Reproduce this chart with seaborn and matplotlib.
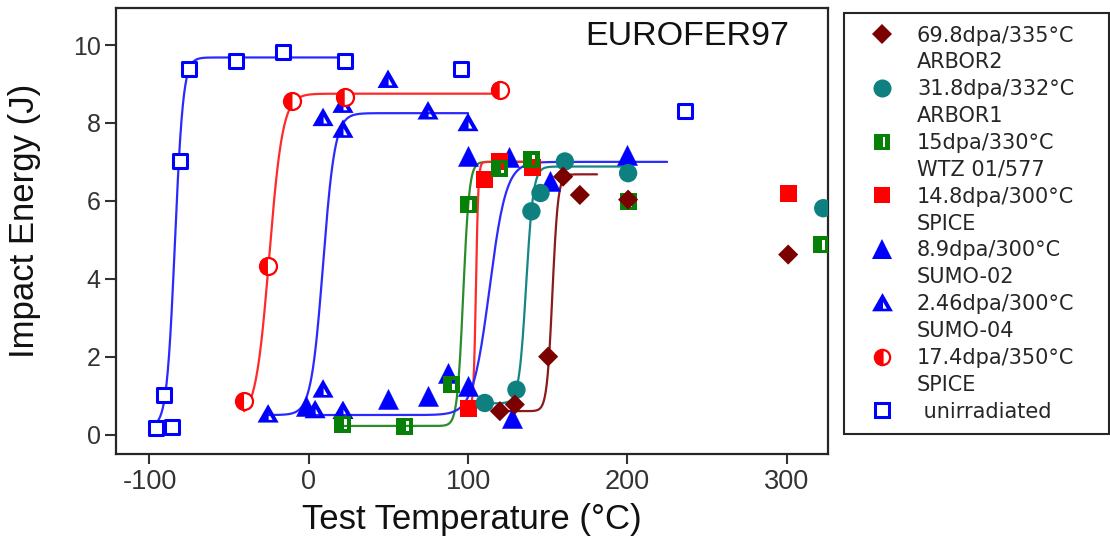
import numpy as np
import pandas as pd
import matplotlib
matplotlib.use("Agg")
import matplotlib.pyplot as plt
from matplotlib.markers import MarkerStyle
from matplotlib.path import Path
from matplotlib.lines import Line2D
import seaborn as sns

sns.set_style("ticks")
plt.rcParams["font.family"] = ["Liberation Sans", "DejaVu Sans"]

# ---------------- data ----------------
series_names = ["69.8dpa/335°C", "31.8dpa/332°C", "15dpa/330°C", "14.8dpa/300°C",
                "8.9dpa/300°C", "2.46dpa/300°C", "17.4dpa/350°C", " unirradiated"]
series_sub = ["ARBOR2", "ARBOR1", "WTZ 01/577", "SPICE", "SUMO-02", "SUMO-04", "SPICE", None]

arbor2_t = [120, 129.4, 150.3, 159.7, 170.2, 200.5, 301]
arbor2_e = [0.60, 0.77, 2.00, 6.62, 6.15, 6.03, 4.62]

arbor1_t = [110.5, 130.4, 139.8, 145.5, 160.8, 200.5, 323]
arbor1_e = [0.81, 1.15, 5.73, 6.20, 7.01, 6.71, 5.81]

wtz_t = [21.5, 60.3, 89.6, 100, 120, 139.8, 200.5, 322]
wtz_e = [0.26, 0.21, 1.28, 5.90, 6.84, 7.05, 5.98, 4.87]

spice148_t = [100, 110.5, 120, 140.7, 301]
spice148_e = [0.68, 6.54, 7.01, 6.85, 6.20]

sumo02_t = [-1.5, 49.8, 74.9, 87.5, 100, 100, 126, 127.3, 151.3, 199.5]
sumo02_e = [0.72, 0.90, 0.98, 1.58, 1.24, 7.14, 7.12, 0.43, 6.50, 7.18]

sumo04_t = [-25.5, 4, 9, 21.5, 9, 21.5, 21.5, 49.8, 74.9, 100]
sumo04_e = [0.51, 0.62, 1.15, 0.60, 8.12, 7.82, 8.46, 9.10, 8.29, 7.99]

spice174_t = [-40.6, -25.6, -10.2, 22.6, 119.9]
spice174_e = [0.85, 4.33, 8.55, 8.66, 8.85]

unirr_t = [-95.6, -85.6, -90.9, -80.8, -75.4, -45.4, -16.1, 22.6, 95.9, 236.5]
unirr_e = [0.18, 0.20, 1.01, 7.03, 9.38, 9.60, 9.83, 9.60, 9.38, 8.31]

# tanh fit parameters of the drawn transition curves (same order as series_names)
fit_use = [6.68, 6.88, 7.00, 7.00, 7.00, 8.25, 8.75, 9.68]
fit_lse = [0.60, 0.80, 0.22, 0.68, 0.50, 0.50, 0.40, 0.20]
fit_t0 = [153.0, 136.5, 97.0, 105.0, 113.5, 9.0, -24.8, -84.0]
fit_c = [3.5, 4.5, 3.8, 1.5, 10.5, 7.5, 8.5, 5.2]
fit_tmin = [120, 110.5, 21.5, 100, -1.5, -25.5, -40.6, -95.6]
fit_tmax = [181, 200.5, 145, 142, 225, 100, 120, 22.6]

x_ticks = [-100, 0, 100, 200, 300]
y_ticks = [0, 2, 4, 6, 8, 10]
title_text = "EUROFER97"
x_label = "Test Temperature (°C)"
y_label = "Impact Energy (J)"

# ---------------- styles ----------------
marker_cols = ["#7B0000", "#0F8080", "#068006", "#FF0000", "#0000FF", "#0000FF", "#FF0000", "#0000FF"]
line_cols = ["#8B1A1A", "#168585", "#2A8C2A", "#FF2A2A", "#2A2AFF", "#2A2AFF", "#FF2A2A", "#2A2AFF"]

wtz_path = Path(
    [(-1, -1), (1, -1), (1, 1), (-1, 1), (-1, -1),
     (0.1, -0.6), (0.1, 0.6), (0.45, 0.6), (0.45, -0.6), (0.1, -0.6)],
    [Path.MOVETO, Path.LINETO, Path.LINETO, Path.LINETO, Path.CLOSEPOLY,
     Path.MOVETO, Path.LINETO, Path.LINETO, Path.LINETO, Path.CLOSEPOLY])
tri_path = Path(
    [(0, 1), (-1, -0.75), (1, -0.75), (0, 1),
     (0.05, -0.5), (0.05, 0.15), (0.42, -0.5), (0.05, -0.5)],
    [Path.MOVETO, Path.LINETO, Path.LINETO, Path.CLOSEPOLY,
     Path.MOVETO, Path.LINETO, Path.LINETO, Path.CLOSEPOLY])

m_wtz = MarkerStyle(wtz_path)
m_tri = MarkerStyle(tri_path)
m_half = MarkerStyle("o", fillstyle="left")

fig = plt.figure(figsize=(11.1, 5.45), dpi=100)
ax = fig.add_axes([116 / 1110, 1 - 454 / 545, (828 - 116) / 1110, (454 - 8) / 545])

# ---------------- fitted curves ----------------
for i in range(len(series_names)):
    tt = np.linspace(fit_tmin[i], fit_tmax[i], 300)
    ee = fit_lse[i] + (fit_use[i] - fit_lse[i]) / 2 * (1 + np.tanh((tt - fit_t0[i]) / fit_c[i]))
    sns.lineplot(x=tt, y=ee, ax=ax, color=line_cols[i], lw=1.6, estimator=None,
                 sort=False, zorder=2)

# ---------------- points ----------------
sns.scatterplot(x=sumo02_t, y=sumo02_e, ax=ax, marker="^", s=210, color=marker_cols[4],
                edgecolor=marker_cols[4], linewidth=0.3, zorder=3)
sns.scatterplot(x=sumo04_t, y=sumo04_e, ax=ax, marker=m_tri, s=230, color=marker_cols[5],
                edgecolor="none", linewidth=0, zorder=3)
sns.scatterplot(x=unirr_t, y=unirr_e, ax=ax, marker="s", s=105, color="white",
                edgecolor=marker_cols[7], linewidth=2.2, zorder=3)
sns.scatterplot(x=spice174_t, y=spice174_e, ax=ax, marker="o", s=150, color="white",
                edgecolor=marker_cols[6], linewidth=1.6, zorder=4)
sns.scatterplot(x=spice174_t, y=spice174_e, ax=ax, marker=m_half, s=150, color=marker_cols[6],
                edgecolor="none", linewidth=0, zorder=4)
sns.scatterplot(x=spice148_t, y=spice148_e, ax=ax, marker="s", s=150, color=marker_cols[3],
                edgecolor="none", linewidth=0, zorder=4)
sns.scatterplot(x=wtz_t, y=wtz_e, ax=ax, marker=m_wtz, s=150, color=marker_cols[2],
                edgecolor="none", linewidth=0, zorder=5)
sns.scatterplot(x=arbor1_t, y=arbor1_e, ax=ax, marker="o", s=175, color=marker_cols[1],
                edgecolor="none", linewidth=0, zorder=5)
sns.scatterplot(x=arbor2_t, y=arbor2_e, ax=ax, marker="D", s=105, color=marker_cols[0],
                edgecolor="none", linewidth=0, zorder=6)

# ---------------- axes ----------------
ax.set_xlim(-121, 326)
ax.set_ylim(-0.5, 10.95)
ax.set_xticks(x_ticks)
ax.set_yticks(y_ticks)
ax.set_xticklabels([str(v) for v in x_ticks])
ax.set_yticklabels([str(v) for v in y_ticks])
ax.tick_params(axis="x", direction="out", length=7, width=1.5, color="#333333",
               labelsize=19.5, labelcolor="#333333", pad=3.5)
ax.tick_params(axis="y", direction="out", length=8, width=1.5, color="#333333",
               labelsize=18, labelcolor="#333333", pad=3)
for sp in ax.spines.values():
    sp.set_visible(True)
    sp.set_color("#262626")
    sp.set_linewidth(1.6)
ax.set_xlabel(x_label, fontsize=25, color="#111111", labelpad=6)
ax.set_ylabel(y_label, fontsize=25, color="#111111")
ax.yaxis.set_label_coords(-0.105, 0.522)
ax.text(0.803, 0.937, title_text, transform=ax.transAxes, ha="center", va="center",
        fontsize=24.5, color="#111111")

# ---------------- legend ----------------
blank = Line2D([], [], linestyle="none", marker=None)
h_list = [
    Line2D([], [], linestyle="none", marker="D", markersize=10.5, markerfacecolor=marker_cols[0],
           markeredgewidth=0),
    Line2D([], [], linestyle="none", marker="o", markersize=13, markerfacecolor=marker_cols[1],
           markeredgewidth=0),
    Line2D([], [], linestyle="none", marker=m_wtz, markersize=11, markerfacecolor=marker_cols[2],
           markeredgewidth=0),
    Line2D([], [], linestyle="none", marker="s", markersize=12, markerfacecolor=marker_cols[3],
           markeredgewidth=0),
    Line2D([], [], linestyle="none", marker="^", markersize=14, markerfacecolor=marker_cols[4],
           markeredgewidth=0),
    Line2D([], [], linestyle="none", marker=m_tri, markersize=15, markerfacecolor=marker_cols[5],
           markeredgewidth=0),
    Line2D([], [], linestyle="none", marker="o", markersize=11, markerfacecolor=marker_cols[6],
           markerfacecoloralt="white", fillstyle="left", markeredgecolor=marker_cols[6],
           markeredgewidth=1.6),
    Line2D([], [], linestyle="none", marker="s", markersize=10, markerfacecolor="white",
           markeredgecolor=marker_cols[7], markeredgewidth=2.2),
]
handles, labels = [], []
for h, name, sub in zip(h_list, series_names, series_sub):
    handles.append(h)
    labels.append(name)
    if sub is not None:
        handles.append(blank)
        labels.append(sub)

leg = fig.legend(handles, labels, loc="upper left",
                 bbox_to_anchor=(844 / 1110, 0.1, (1109 - 844) / 1110, 1 - 13 / 545 - 0.1),
                 mode="expand", borderaxespad=0, frameon=True, fancybox=False,
                 framealpha=1, edgecolor="#262626", handlelength=2.4, handletextpad=0.5,
                 borderpad=0.6, labelspacing=0.33,
                 prop={"family": "DejaVu Sans", "size": 15})
leg.get_frame().set_linewidth(1.5)
for t in leg.get_texts():
    t.set_color("#262626")

fig.savefig("out.png", dpi=100)
